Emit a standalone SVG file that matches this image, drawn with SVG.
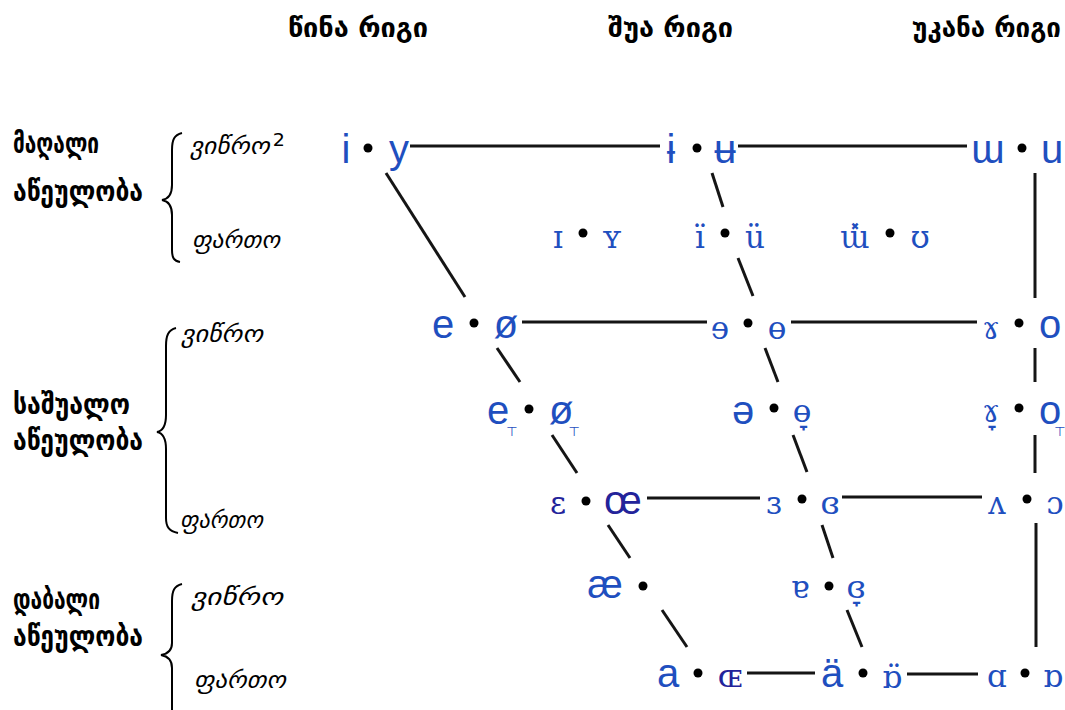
<svg xmlns="http://www.w3.org/2000/svg" width="1065" height="710" viewBox="0 0 1065 710">
<style>
.hdr{font-family:"DejaVu Sans",sans-serif;font-weight:bold;font-size:27px;fill:#000}
.lvl{font-family:"DejaVu Sans",sans-serif;font-weight:bold;font-size:28px;fill:#000}
.sub{font-family:"DejaVu Sans",sans-serif;font-style:italic;font-size:24px;fill:#000}
.v{font-family:"Liberation Sans","DejaVu Sans",sans-serif;font-size:40px;fill:#1f4fbf;text-anchor:middle}
.vl{font-family:"Liberation Sans","DejaVu Sans",sans-serif;font-size:40px;fill:#1f4fbf}
.vs{font-family:"DejaVu Serif","Liberation Serif",serif;font-size:31px;fill:#1f4fbf;text-anchor:middle}
.nv{fill:#23239a}
.tk{font-family:"DejaVu Sans",sans-serif;font-size:13px}
.ln{stroke:#151515;stroke-width:3;fill:none}
.br{stroke:#000;stroke-width:2;fill:none}
</style>
<rect width="1065" height="710" fill="#fff"/>
<g id="headers">
<text class="hdr" x="288" y="37" textLength="140" lengthAdjust="spacingAndGlyphs">წინა რიგი</text>
<text class="hdr" x="608" y="37" textLength="125" lengthAdjust="spacingAndGlyphs">შუა რიგი</text>
<text class="hdr" x="912" y="37" textLength="149" lengthAdjust="spacingAndGlyphs">უკანა რიგი</text>
</g>
<g id="level-high">
<text class="lvl" x="13" y="153" textLength="86" lengthAdjust="spacingAndGlyphs">მაღალი</text>
<text class="lvl" x="13" y="201" textLength="130" lengthAdjust="spacingAndGlyphs">აწეულობა</text>
<path class="br" d="M182,133 C174,135 172,140 172,150 L172,185 C172,195 168,199 162,200 C168,201 172,205 172,215 L172,250 C172,258 174,261 180,262"/>
<text class="sub" x="190" y="154" textLength="95" lengthAdjust="spacingAndGlyphs">ვიწრო<tspan dx="3" dy="-8" font-size="18" font-style="normal">2</tspan></text>
<text class="sub" x="192" y="248" textLength="88" lengthAdjust="spacingAndGlyphs">ფართო</text>
</g>
<g id="level-mid">
<text class="lvl" x="13" y="414" textLength="117" lengthAdjust="spacingAndGlyphs">საშუალო</text>
<text class="lvl" x="13" y="450" textLength="130" lengthAdjust="spacingAndGlyphs">აწეულობა</text>
<path class="br" d="M176,328 C168,330 166,336 166,346 L166,415 C166,426 162,431 157,432 C162,433 166,438 166,449 L166,518 C166,527 169,531 178,533"/>
<text class="sub" x="181" y="342" textLength="82" lengthAdjust="spacingAndGlyphs">ვიწრო</text>
<text class="sub" x="180" y="528" textLength="83" lengthAdjust="spacingAndGlyphs">ფართო</text>
</g>
<g id="level-low">
<text class="lvl" x="13" y="609" textLength="87" lengthAdjust="spacingAndGlyphs">დაბალი</text>
<text class="lvl" x="13" y="646" textLength="130" lengthAdjust="spacingAndGlyphs">აწეულობა</text>
<path class="br" d="M182,584 C174,586 172,591 172,601 L172,643 C172,651 167,654 161,655 C167,656 172,660 172,668 L172,712"/>
<text class="sub" x="191" y="605" textLength="92" lengthAdjust="spacingAndGlyphs">ვიწრო</text>
<text class="sub" x="194" y="688" textLength="92" lengthAdjust="spacingAndGlyphs">ფართო</text>
</g>
<g id="connectors">
<line class="ln" x1="410" y1="146" x2="660" y2="146"/>
<line class="ln" x1="738" y1="146" x2="967" y2="146"/>
<line class="ln" x1="522" y1="322" x2="707" y2="322"/>
<line class="ln" x1="791" y1="322" x2="977" y2="322"/>
<line class="ln" x1="647" y1="498" x2="760" y2="498"/>
<line class="ln" x1="842" y1="497" x2="982" y2="497"/>
<line class="ln" x1="747" y1="673" x2="815" y2="673"/>
<line class="ln" x1="907" y1="674" x2="978" y2="674"/>
<line class="ln" x1="386" y1="173" x2="465" y2="297"/>
<line class="ln" x1="497" y1="348" x2="520" y2="382"/>
<line class="ln" x1="552" y1="435" x2="577" y2="473"/>
<line class="ln" x1="608" y1="525" x2="630" y2="558"/>
<line class="ln" x1="662" y1="610" x2="687" y2="647"/>
<line class="ln" x1="712" y1="173" x2="723" y2="207"/>
<line class="ln" x1="738" y1="258" x2="753" y2="296"/>
<line class="ln" x1="765" y1="348" x2="778" y2="382"/>
<line class="ln" x1="793" y1="435" x2="807" y2="472"/>
<line class="ln" x1="822" y1="525" x2="833" y2="558"/>
<line class="ln" x1="847" y1="610" x2="862" y2="647"/>
<line class="ln" x1="1035" y1="173" x2="1035" y2="298"/>
<line class="ln" x1="1035" y1="348" x2="1035" y2="382"/>
<line class="ln" x1="1035" y1="435" x2="1035" y2="473"/>
<line class="ln" x1="1036" y1="523" x2="1036" y2="647"/>
</g>
<g id="dots" fill="#000">
<circle cx="368" cy="148" r="4.5"/><circle cx="697" cy="148" r="4.5"/><circle cx="1022" cy="148" r="4.5"/>
<circle cx="583" cy="233" r="4.5"/><circle cx="725" cy="233" r="4.5"/><circle cx="890" cy="233" r="4.5"/>
<circle cx="474" cy="323" r="4.5"/><circle cx="748" cy="323" r="4.5"/><circle cx="1019" cy="323" r="4.5"/>
<circle cx="529" cy="409" r="4.5"/><circle cx="774" cy="408" r="4.5"/><circle cx="1019" cy="408" r="4.5"/>
<circle cx="586" cy="501" r="4.5"/><circle cx="802" cy="499" r="4.5"/><circle cx="1027" cy="499" r="4.5"/>
<circle cx="643" cy="586" r="4.5"/><circle cx="829" cy="586" r="4.5"/>
<circle cx="698" cy="673" r="4.5"/><circle cx="863" cy="673" r="4.5"/><circle cx="1025" cy="673" r="4.5"/>
</g>
<g id="row-close">
<text class="v" x="346" y="163">i</text><text class="v" x="399" y="163">y</text>
<text class="v" x="671" y="163">ɨ</text><text class="v" x="725" y="163" font-size="34">ʉ</text>
<text class="v" x="988" y="163">ɯ</text><text class="v" x="1052" y="163">u</text>
</g>
<g id="row-near-close">
<text class="vs" x="558" y="248">ɪ</text><text class="vs" x="612" y="248">ʏ</text>
<text class="vs" x="700" y="248">ï</text><text class="vs" x="755" y="248">ü</text>
<text class="vs" x="855" y="248">ɯ̽</text><text class="vs" x="920" y="248">ʊ</text>
</g>
<g id="row-close-mid">
<text class="v" x="443" y="338">e</text><text class="v" x="506" y="338">ø</text>
<text class="vs" x="720" y="339">ɘ</text><text class="vs" x="777" y="339">ɵ</text>
<text class="vs" x="991" y="339">ɤ</text><text class="v" x="1050" y="338">o</text>
</g>
<g id="row-mid">
<text class="vl" x="487" y="424">e<tspan class="tk" dx="-3" dy="12">⊤</tspan></text>
<text class="vl" x="549" y="424">ø<tspan class="tk" dx="-5" dy="12">⊤</tspan></text>
<text class="v" x="743" y="424">ə</text>
<text class="vs" x="802" y="422">ɵ̞</text>
<text class="vs" x="991" y="422">ɤ̞</text>
<text class="vl" x="1039" y="424">o<tspan class="tk" dx="-7" dy="12">⊤</tspan></text>
</g>
<g id="row-open-mid">
<text class="vs nv" x="558" y="514">ɛ</text><text class="v nv" x="623" y="514">œ</text>
<text class="vs" x="774" y="514">ɜ</text><text class="vs" x="830" y="514">ɞ</text>
<text class="vs" x="997" y="514">ʌ</text><text class="vs" x="1055" y="514">ɔ</text>
</g>
<g id="row-near-open">
<text class="v" x="605" y="598">æ</text>
<text class="vs" x="800" y="598">ɐ</text><text class="vs" x="856" y="598">ɞ̞</text>
</g>
<g id="row-open">
<text class="v" x="668" y="687">a</text><text class="vs nv" x="730" y="687">ɶ</text>
<text class="v" x="832" y="687">ä</text><text class="vs" x="892" y="688">ɒ̈</text>
<text class="vs" x="997" y="687">ɑ</text><text class="vs" x="1053" y="687">ɒ</text>
</g>
</svg>
